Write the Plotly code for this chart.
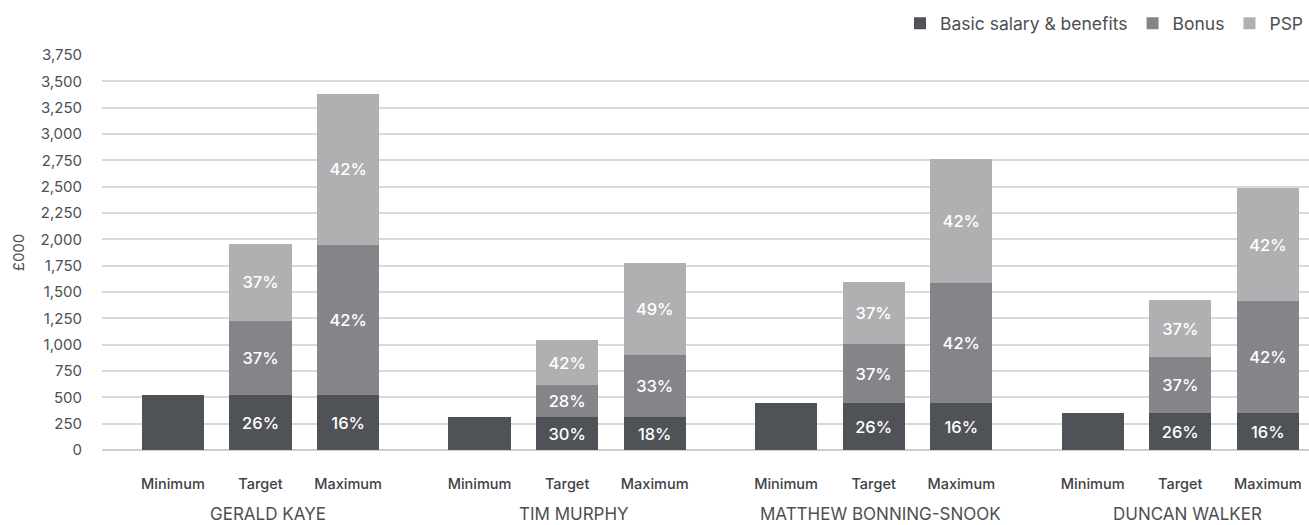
import plotly.graph_objects as go

# Executive pay scenarios, £000
directors = ["GERALD KAYE", "TIM MURPHY", "MATTHEW BONNING-SNOOK", "DUNCAN WALKER"]
scenarios = ["Minimum", "Target", "Maximum"]

basic = [520, 520, 520, 309, 309, 309, 442, 442, 442, 348, 348, 348]
bonus = [0, 704, 1428, 0, 305, 593, 0, 562, 1143, 0, 532, 1065]
psp = [0, 733, 1436, 0, 428, 872, 0, 590, 1179, 0, 543, 1074]

basic_pct = ["", "26%", "16%", "", "30%", "18%", "", "26%", "16%", "", "26%", "16%"]
bonus_pct = ["", "37%", "42%", "", "28%", "33%", "", "37%", "42%", "", "37%", "42%"]
psp_pct = ["", "37%", "42%", "", "42%", "49%", "", "37%", "42%", "", "37%", "42%"]

y_ticks = list(range(0, 3751, 250))

GROUP_STEP = 3.5
xpos = [g * GROUP_STEP + i for g in range(len(directors)) for i in range(len(scenarios))]
xlabels = [s for _ in directors for s in scenarios]

FONT = "Inter"
TEXT_COL = "#4d4f53"

fig = go.Figure()
series = [
    ("Basic salary & benefits", basic, basic_pct, "#4f5256"),
    ("Bonus", bonus, bonus_pct, "#858489"),
    ("PSP", psp, psp_pct, "#b0b0b2"),
]
for name, vals, labels, col in series:
    fig.add_trace(go.Bar(
        name=name, x=xpos, y=vals, text=labels, width=0.71,
        marker=dict(color=col, line=dict(width=0)),
        textposition="inside", insidetextanchor="middle",
        textfont=dict(color="white", size=16.5, family=FONT, weight=500),
        cliponaxis=False,
    ))

for g, d in enumerate(directors):
    fig.add_annotation(
        x=g * GROUP_STEP + 1.08, y=0, xref="x", yref="paper",
        text=d, showarrow=False, yshift=-64, yanchor="middle",
        font=dict(size=17, color=TEXT_COL, family=FONT),
    )

fig.update_layout(
    width=1309, height=525,
    barmode="stack",
    plot_bgcolor="white", paper_bgcolor="white",
    margin=dict(l=102, r=0, t=55, b=75),
    font=dict(family=FONT, color=TEXT_COL),
    legend=dict(
        orientation="h", x=1.0, xanchor="right", y=0.99, yanchor="top",
        yref="container", font=dict(size=17.5, color=TEXT_COL),
        itemsizing="constant", traceorder="normal",
        bgcolor="rgba(0,0,0,0)",
    ),
    xaxis=dict(
        tickmode="array", tickvals=xpos, ticktext=xlabels,
        range=[-0.81, 12.97], showgrid=False, zeroline=False,
        showline=False, ticks="outside", ticklen=21, tickcolor="rgba(0,0,0,0)",
        tickfont=dict(size=14.5, color="#3f4145", family=FONT, weight=500),
    ),
    yaxis=dict(
        range=[0, 3750], tickmode="array", tickvals=y_ticks,
        ticktext=[f"{v:,}" if v else "0" for v in y_ticks],
        showgrid=True, gridcolor="#d9d9d9", gridwidth=1.5,
        zeroline=True, zerolinecolor="#cfcfcf", zerolinewidth=2,
        ticks="outside", ticklen=16, tickcolor="rgba(0,0,0,0)",
        tickfont=dict(size=15, color=TEXT_COL, family=FONT),
        title=dict(text="£000", font=dict(size=15, color=TEXT_COL), standoff=12),
    ),
)

fig.write_html("out.html")
